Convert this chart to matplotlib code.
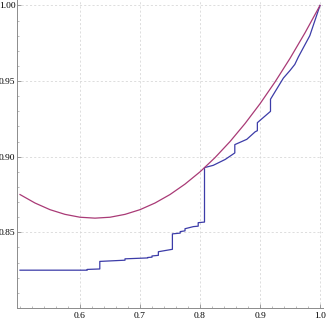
import numpy as np
import matplotlib
matplotlib.use("Agg")
import matplotlib.pyplot as plt
from matplotlib.ticker import MultipleLocator, FixedLocator

# smooth curve
curve_x = [0.5, 0.525, 0.55, 0.575, 0.6, 0.625, 0.65, 0.675, 0.7, 0.725, 0.75,
           0.775, 0.8, 0.825, 0.85, 0.875, 0.9, 0.925, 0.95, 0.975, 1.0]
curve_y = [0.8750, 0.8694, 0.8650, 0.8619, 0.8600, 0.8594, 0.8600, 0.8619,
           0.8650, 0.8694, 0.8750, 0.8819, 0.8900, 0.8994, 0.9100, 0.9219,
           0.9350, 0.9494, 0.9650, 0.9819, 1.0000]

# stepped curve vertices
step_x = [0.5, 0.612, 0.612, 0.633, 0.633, 0.675, 0.675, 0.713, 0.713, 0.72,
          0.72, 0.7306, 0.7306, 0.754, 0.754, 0.767, 0.767, 0.775, 0.775,
          0.789, 0.797, 0.797, 0.8075, 0.8075, 0.822, 0.842, 0.858, 0.858,
          0.878, 0.892, 0.8956, 0.8956, 0.9175, 0.9175, 0.939, 0.95, 0.958,
          0.964, 0.983, 1.0]
step_y = [0.825, 0.825, 0.8255, 0.8258, 0.8308, 0.8316, 0.8325, 0.8331,
          0.8334, 0.8336, 0.8344, 0.8348, 0.8372, 0.8388, 0.8490, 0.8495,
          0.8505, 0.8510, 0.8524, 0.8538, 0.8541, 0.8564, 0.8568, 0.8928,
          0.8943, 0.8982, 0.9025, 0.9080, 0.9115, 0.9165, 0.9172, 0.9225,
          0.9300, 0.9380, 0.9520, 0.9570, 0.9610, 0.9660, 0.9800, 1.0000]

x_ticks = [0.6, 0.7, 0.8, 0.9, 1.0]
y_ticks = [0.85, 0.90, 0.95, 1.00]
y_labels = ["0.85", "0.90", "0.95", "1.00"]

plt.rcParams['font.family'] = ['Liberation Serif', 'DejaVu Serif']

fig = plt.figure(figsize=(3.27, 3.20), dpi=100)
ax = fig.add_axes([17 / 327, 12 / 320, 306 / 327, 308 / 320])
ax.set_xlim(0.495, 1.005)
ax.set_ylim(0.8, 1.0036)

for v in x_ticks:
    ax.axvline(v, color='#d8d8d8', lw=0.6, ls=(0, (2.5, 2.5)), zorder=0)
for v in y_ticks:
    ax.axhline(v, color='#d8d8d8', lw=0.6, ls=(0, (2.5, 2.5)), zorder=0)

ax.plot(curve_x, curve_y, color='#a93a76', lw=0.9, zorder=3)
ax.plot(step_x, step_y, color='#3c3ca8', lw=0.9, zorder=2)

for s in ['top', 'right']:
    ax.spines[s].set_visible(False)
for s in ['left', 'bottom']:
    ax.spines[s].set_color('#8c8c8c')
    ax.spines[s].set_linewidth(0.7)

ax.xaxis.set_major_locator(FixedLocator(x_ticks))
ax.set_xticklabels([f"{v:.1f}" for v in x_ticks])
ax.xaxis.set_minor_locator(MultipleLocator(0.02))
ax.yaxis.set_major_locator(FixedLocator(y_ticks))
ax.set_yticklabels(y_labels)
ax.yaxis.set_minor_locator(MultipleLocator(0.01))

ax.tick_params(which='major', direction='in', length=3, width=0.6,
               color='#8c8c8c', labelsize=6.8, pad=1)
ax.tick_params(which='minor', direction='in', length=1.5, width=0.5,
               color='#a0a0a0')
ax.tick_params(axis='x', pad=3)

fig.savefig("out.png", dpi=100)
